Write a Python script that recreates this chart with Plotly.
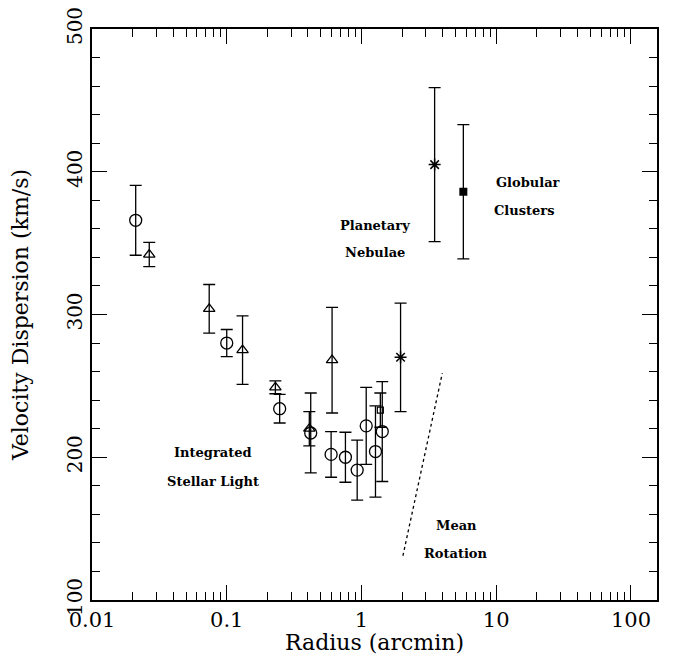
import numpy as np
import plotly.graph_objects as go

# Integrated stellar light (circles)
circ_r = [0.0211, 0.100, 0.247, 0.42, 0.595, 0.76, 0.929, 1.084, 1.27, 1.426]
circ_v = [366, 280, 234, 217, 202, 200, 191, 222, 204, 218]
circ_e = [24.5, 9.5, 10, 28, 16, 17.5, 21, 27, 32, 35]

# Integrated stellar light (triangles)
tri_r = [0.0266, 0.0741, 0.131, 0.2296, 0.41, 0.605]
tri_v = [342, 304, 275, 249, 220, 268]
tri_e = [8.5, 17, 24, 4.5, 12, 37]

# small open square
sq_r = [1.38]
sq_v = [233]
sq_e = [12]

# Planetary nebulae (asterisks)
pn_r = [1.95, 3.49]
pn_v = [270, 405]
pn_e = [38, 54]

# Globular clusters (filled square)
gc_r = [5.70]
gc_v = [386]
gc_e = [47]

# Mean rotation (dotted)
rot_r = [2.03, 2.87, 3.98]
rot_v = [131, 198, 259]

ytick_vals = [100, 200, 300, 400, 500]
ytick_text = ["100", "200", "300", "400", "500"]
xtick_vals = [0.01, 0.1, 1, 10, 100]
xtick_text = ["0.01", "0.1", "1", "10", "100"]
x_minor_vals = [m * d for d in [0.01, 0.1, 1, 10, 100] for m in range(2, 10)]

labels = [
    ("Integrated", 0.0794, 203),
    ("Stellar Light", 0.0794, 183),
    ("Planetary", 1.27, 362.7),
    ("Nebulae", 1.27, 343.3),
    ("Globular", 17.1, 392.3),
    ("Clusters", 16.1, 372.7),
    ("Mean", 5.08, 152.5),
    ("Rotation", 5.0, 132.7),
]

FONT = "DejaVu Serif"
black = "black"

def err(arr):
    return dict(type="data", array=arr, visible=True, color=black, thickness=1.3, width=6)

fig = go.Figure()
fig.add_trace(go.Scatter(x=circ_r, y=circ_v, mode="markers", error_y=err(circ_e),
                         marker=dict(symbol="circle-open", size=12, color=black, line=dict(width=1.3))))
fig.add_trace(go.Scatter(x=tri_r, y=tri_v, mode="markers", error_y=err(tri_e),
                         marker=dict(symbol="triangle-up-open", size=10, color=black, line=dict(width=1.3))))
fig.add_trace(go.Scatter(x=sq_r, y=sq_v, mode="markers", error_y=err(sq_e),
                         marker=dict(symbol="square-open", size=6, color=black, line=dict(width=1.2))))
fig.add_trace(go.Scatter(x=pn_r, y=pn_v, mode="markers", error_y=err(pn_e),
                         marker=dict(symbol="asterisk-open", size=10, color=black, line=dict(width=1.5))))
fig.add_trace(go.Scatter(x=gc_r, y=gc_v, mode="markers", error_y=err(gc_e),
                         marker=dict(symbol="square", size=8, color=black)))
fig.add_trace(go.Scatter(x=rot_r, y=rot_v, mode="lines",
                         line=dict(color=black, width=1.3, dash="dot")))

for txt, x, y in labels:
    fig.add_annotation(x=np.log10(x), y=y, text=txt, showarrow=False,
                       font=dict(family=FONT, size=13, color=black, weight="bold"),
                       xanchor="center", yanchor="middle")

axis_common = dict(showline=True, linecolor=black, linewidth=1.5, mirror="ticks",
                   ticks="inside", tickcolor=black, tickwidth=1.3, ticklen=15,
                   showgrid=False, zeroline=False, automargin=False,
                   ticklabeloverflow="allow",
                   title_font=dict(family=FONT, size=22, color=black))

fig.update_xaxes(type="log", range=[-2, np.log10(156)], tickmode="array",
                 tickvals=xtick_vals, ticktext=xtick_text,
                 tickfont=dict(family=FONT, size=21, color=black),
                 minor=dict(ticks="inside", ticklen=8, tickcolor=black, tickwidth=1.2,
                            tickmode="array", tickvals=x_minor_vals, showgrid=False),
                 title_text="Radius (arcmin)", title_standoff=0, **axis_common)
fig.update_yaxes(range=[100, 500], tickmode="array", tickvals=ytick_vals, ticktext=ytick_text,
                 tickangle=-90, tickfont=dict(family=FONT, size=20, color=black),
                 minor=dict(ticks="inside", ticklen=8, tickcolor=black, tickwidth=1.2, dtick=20,
                            showgrid=False),
                 title_text="Velocity Dispersion (km/s)", title_standoff=30, **axis_common)

# page body has an 8px default margin, so the figure is sized/offset to compensate
fig.update_layout(width=665, height=647, margin=dict(l=84, r=16, t=21, b=55),
                  paper_bgcolor="white", plot_bgcolor="white", showlegend=False,
                  font=dict(family=FONT, color=black))

fig.write_html("out.html")
